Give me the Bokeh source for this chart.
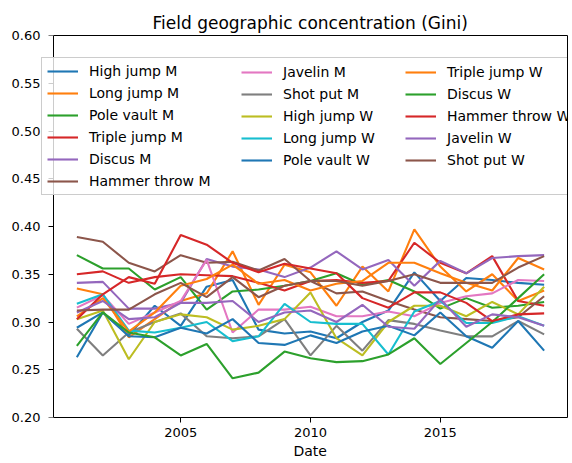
from bokeh.plotting import figure
from bokeh.models import (Range1d, FixedTicker, PrintfTickFormatter, Legend, LegendItem,
                          LinearAxis, Title)
from bokeh.embed import file_html
from bokeh.resources import INLINE

years = list(range(2001, 2020))

high_jump_m = [0.294, 0.310, 0.286, 0.317, 0.296, 0.337, 0.344, 0.292, 0.288, 0.290, 0.283, 0.300, 0.312, 0.352, 0.322, 0.346, 0.344, 0.341, 0.339]
long_jump_m = [0.335, 0.329, 0.284, 0.303, 0.322, 0.330, 0.374, 0.318, 0.360, 0.352, 0.317, 0.358, 0.332, 0.397, 0.358, 0.332, 0.350, 0.322, 0.333]
pole_vault_m = [0.370, 0.356, 0.356, 0.334, 0.347, 0.313, 0.332, 0.334, 0.338, 0.343, 0.351, 0.339, 0.344, 0.332, 0.314, 0.325, 0.315, 0.317, 0.321]
triple_jump_m = [0.350, 0.353, 0.341, 0.347, 0.350, 0.349, 0.348, 0.341, 0.333, 0.343, 0.344, 0.341, 0.343, 0.383, 0.362, 0.351, 0.369, 0.322, 0.317]
discus_m = [0.341, 0.342, 0.314, 0.314, 0.320, 0.366, 0.358, 0.355, 0.347, 0.357, 0.374, 0.355, 0.365, 0.338, 0.364, 0.351, 0.367, 0.369, 0.370]
hammer_throw_m = [0.389, 0.384, 0.362, 0.353, 0.370, 0.362, 0.363, 0.354, 0.366, 0.343, 0.330, 0.332, 0.322, 0.313, 0.305, 0.303, 0.301, 0.305, 0.327]
javelin_m = [0.315, 0.328, 0.298, 0.310, 0.322, 0.365, 0.289, 0.313, 0.313, 0.316, 0.306, 0.306, 0.311, 0.306, 0.320, 0.327, 0.330, 0.344, 0.343]
shot_put_m = [0.293, 0.265, 0.289, 0.300, 0.309, 0.285, 0.283, 0.285, 0.303, 0.265, 0.296, 0.270, 0.302, 0.298, 0.291, 0.285, 0.285, 0.301, 0.287]
high_jump_w = [0.303, 0.312, 0.261, 0.300, 0.308, 0.305, 0.292, 0.296, 0.303, 0.331, 0.283, 0.265, 0.300, 0.317, 0.317, 0.306, 0.321, 0.308, 0.337]
long_jump_w = [0.319, 0.329, 0.291, 0.289, 0.294, 0.300, 0.280, 0.285, 0.319, 0.300, 0.298, 0.298, 0.266, 0.311, 0.322, 0.299, 0.299, 0.306, 0.296]
pole_vault_w = [0.263, 0.310, 0.285, 0.284, 0.294, 0.288, 0.303, 0.278, 0.276, 0.286, 0.278, 0.290, 0.296, 0.286, 0.310, 0.285, 0.273, 0.301, 0.270]
triple_jump_w = [0.306, 0.325, 0.290, 0.310, 0.338, 0.345, 0.360, 0.340, 0.344, 0.333, 0.340, 0.343, 0.362, 0.362, 0.351, 0.341, 0.333, 0.367, 0.355]
discus_w = [0.275, 0.310, 0.289, 0.284, 0.265, 0.277, 0.241, 0.247, 0.269, 0.262, 0.258, 0.259, 0.266, 0.283, 0.256, 0.278, 0.300, 0.325, 0.350]
hammer_throw_w = [0.303, 0.329, 0.347, 0.340, 0.391, 0.381, 0.362, 0.352, 0.361, 0.356, 0.351, 0.325, 0.315, 0.331, 0.331, 0.320, 0.301, 0.308, 0.309]
javelin_w = [0.310, 0.322, 0.303, 0.305, 0.320, 0.320, 0.322, 0.300, 0.310, 0.312, 0.300, 0.318, 0.295, 0.293, 0.324, 0.295, 0.308, 0.305, 0.296]
shot_put_w = [0.312, 0.313, 0.313, 0.329, 0.341, 0.326, 0.347, 0.326, 0.338, 0.343, 0.343, 0.338, 0.343, 0.350, 0.341, 0.341, 0.341, 0.357, 0.369]

names = ["High jump M", "Long jump M", "Pole vault M", "Triple jump M", "Discus M",
         "Hammer throw M", "Javelin M", "Shot put M", "High jump W", "Long jump W",
         "Pole vault W", "Triple jump W", "Discus W", "Hammer throw W", "Javelin W", "Shot put W"]
series = [high_jump_m, long_jump_m, pole_vault_m, triple_jump_m, discus_m, hammer_throw_m,
          javelin_m, shot_put_m, high_jump_w, long_jump_w, pole_vault_w, triple_jump_w,
          discus_w, hammer_throw_w, javelin_w, shot_put_w]
tab10 = ["#1f77b4", "#ff7f0e", "#2ca02c", "#d62728", "#9467bd",
         "#8c564b", "#e377c2", "#7f7f7f", "#bcbd22", "#17becf"]

y_ticks = [0.20, 0.25, 0.30, 0.35, 0.40, 0.45, 0.50, 0.55, 0.60]
x_ticks = [2005, 2010, 2015]
x_lo, x_hi = 2000.1, 2019.9
y_lo, y_hi = 0.2, 0.6

FONT = "DejaVu Sans"

# the frame starts a little left of the y axis line so the legend box can overhang it
p = figure(width=572, height=463, x_range=Range1d(1999.638, x_hi), y_range=Range1d(y_lo, y_hi),
           output_backend="svg", toolbar_location=None,
           title="Field geographic concentration (Gini)",
           min_border_left=41, min_border_right=5, min_border_top=35, min_border_bottom=46)

p.title.align = "left"
p.title.offset = 111
p.title.text_font = FONT
p.title.text_font_size = "17px"
p.title.text_font_style = "normal"
p.title.text_color = "black"
p.title.standoff = 5

p.xgrid.visible = False
p.ygrid.visible = False
p.outline_line_color = None

# bottom axis (spine limited to the data range)
p.xaxis.ticker = FixedTicker(ticks=x_ticks)
p.xaxis.formatter = PrintfTickFormatter(format="%d")
p.xaxis.bounds = (x_lo, x_hi)
p.xaxis.major_tick_out = 5
p.xaxis.major_tick_in = 0
p.xaxis.minor_tick_out = 0
p.xaxis.minor_tick_in = 0
p.xaxis.axis_line_color = "black"
p.xaxis.major_tick_line_color = "black"
p.xaxis.major_label_text_color = "black"
p.xaxis.major_label_text_font = FONT
p.xaxis.major_label_text_font_size = "13px"
p.xaxis.major_label_standoff = 5

# left axis: tick labels only
p.yaxis.ticker = FixedTicker(ticks=y_ticks)
p.yaxis.formatter = PrintfTickFormatter(format="%.2f")
p.yaxis.axis_line_color = None
p.yaxis.major_tick_out = 0
p.yaxis.major_tick_in = 0
p.yaxis.minor_tick_out = 0
p.yaxis.minor_tick_in = 0
p.yaxis.major_label_text_color = "black"
p.yaxis.major_label_text_font = FONT
p.yaxis.major_label_text_font_size = "13px"
p.yaxis.major_label_standoff = 1

# right spine
rspine = LinearAxis(ticker=FixedTicker(ticks=[]), axis_line_color="black",
                    major_tick_in=0, major_tick_out=0, minor_tick_in=0, minor_tick_out=0,
                    major_label_standoff=0)
p.add_layout(rspine, "right")
# y axis line with outward ticks, at the left end of the data range
yline = LinearAxis(ticker=FixedTicker(ticks=y_ticks), fixed_location=x_lo,
                   formatter=PrintfTickFormatter(format=""),
                   axis_line_color="black", major_tick_line_color="black",
                   major_tick_in=5, major_tick_out=0, minor_tick_in=0, minor_tick_out=0,
                   major_label_standoff=0, major_label_text_alpha=0,
                   major_label_text_font_size="1px")
p.add_layout(yline, "right")
# top spine
tspine = LinearAxis(ticker=FixedTicker(ticks=[]), bounds=(x_lo, x_hi), axis_line_color="black",
                    major_tick_in=0, major_tick_out=0, minor_tick_in=0, minor_tick_out=0,
                    major_label_standoff=0)
p.add_layout(tspine, "above")

# x axis title
p.add_layout(Title(text="Date", align="left", offset=252, standoff=2, text_font=FONT,
                   text_font_size="14px", text_font_style="normal", text_color="black"),
             "below")

items = []
for i, (name, vals) in enumerate(zip(names, series)):
    r = p.line(years, vals, line_color=tab10[i % 10], line_width=2.1)
    items.append(LegendItem(label=name, renderers=[r]))

common = dict(padding=5, spacing=6, glyph_width=31, glyph_height=16, label_height=16,
              label_standoff=11, margin=0, label_text_font=FONT, label_text_font_size="14px",
              label_text_color="black")

leg1 = Legend(items=items[0:6], location=(0, 222), label_width=560,
              border_line_color="#cccccc", border_line_width=1, border_line_alpha=1.0,
              background_fill_color="white", background_fill_alpha=0.8, **common)
leg2 = Legend(items=items[6:11], location=(195, 244), border_line_alpha=0.0,
              background_fill_alpha=0.0, **common)
leg3 = Legend(items=items[11:16], location=(359, 244), border_line_alpha=0.0,
              background_fill_alpha=0.0, **common)
p.add_layout(leg1, "center")
p.add_layout(leg2, "center")
p.add_layout(leg3, "center")

open("out.html", "w").write(file_html(p, INLINE))
